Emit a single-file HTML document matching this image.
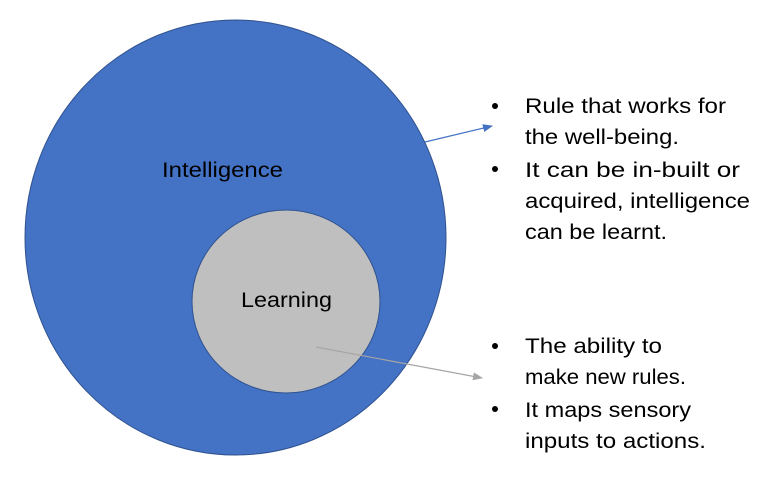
<!DOCTYPE html>
<html><head><style>
body{margin:0;background:#fff;}
svg text{font-family:"Liberation Sans",sans-serif;font-size:21.5px;fill:#000;}
</style></head><body>
<svg width="776" height="487" viewBox="0 0 776 487">
<defs>
<marker id="ab" markerWidth="10" markerHeight="8" refX="9" refY="4" orient="auto" markerUnits="userSpaceOnUse"><path d="M0,0 L10,4 L0,8 z" fill="#4472c4"/></marker>
<marker id="ag" markerWidth="10" markerHeight="8" refX="9" refY="4" orient="auto" markerUnits="userSpaceOnUse"><path d="M0,0 L10,4 L0,8 z" fill="#a5a5a5"/></marker>
</defs>
<ellipse cx="235.5" cy="237.5" rx="210.5" ry="217.5" fill="#4472c4" stroke="#2f528f" stroke-width="1"/>
<ellipse cx="286" cy="301.5" rx="94" ry="91.5" fill="#bfbfbf" stroke="#2f528f" stroke-width="1"/>
<text x="162" y="177" textLength="121" lengthAdjust="spacingAndGlyphs">Intelligence</text>
<text x="241" y="307" textLength="91" lengthAdjust="spacingAndGlyphs">Learning</text>
<line x1="425" y1="142" x2="492" y2="126" stroke="#4472c4" stroke-width="1.2" marker-end="url(#ab)"/>
<line x1="316" y1="347" x2="482" y2="378" stroke="#a5a5a5" stroke-width="1.2" marker-end="url(#ag)"/>
<g>
<circle cx="495" cy="106" r="3" fill="#000"/>
<text x="525" y="113" textLength="201" lengthAdjust="spacingAndGlyphs">Rule that works for</text>
<text x="525" y="144" textLength="154" lengthAdjust="spacingAndGlyphs">the well-being.</text>
<circle cx="495" cy="169" r="3" fill="#000"/>
<text x="525" y="177" textLength="215" lengthAdjust="spacingAndGlyphs">It can be in-built or</text>
<text x="525" y="208" textLength="225" lengthAdjust="spacingAndGlyphs">acquired, intelligence</text>
<text x="525" y="239" textLength="142" lengthAdjust="spacingAndGlyphs">can be learnt.</text>
<circle cx="495" cy="346" r="3" fill="#000"/>
<text x="525" y="353" textLength="137" lengthAdjust="spacingAndGlyphs">The ability to</text>
<text x="525" y="384" textLength="161" lengthAdjust="spacingAndGlyphs">make new rules.</text>
<circle cx="495" cy="409" r="3" fill="#000"/>
<text x="525" y="417" textLength="166" lengthAdjust="spacingAndGlyphs">It maps sensory</text>
<text x="525" y="448" textLength="181" lengthAdjust="spacingAndGlyphs">inputs to actions.</text>
</g>
</svg>
</body></html>
